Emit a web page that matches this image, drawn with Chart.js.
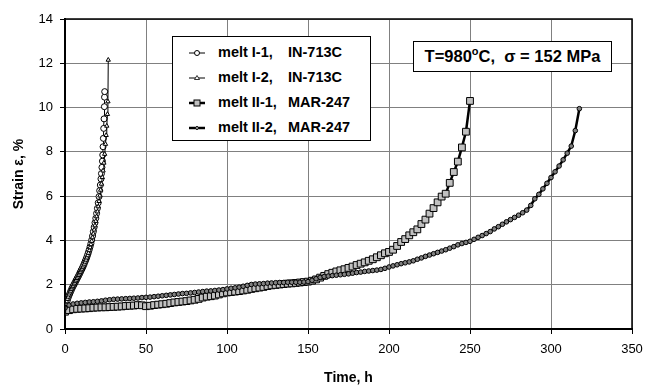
<!DOCTYPE html>
<html>
<head>
<meta charset="utf-8">
<script src="https://cdn.jsdelivr.net/npm/chart.js@4"></script>
<style>
  body { margin: 0; background: #fff; font-family: "Liberation Sans", Arial, sans-serif; }
  #wrap { position: relative; width: 645px; height: 388px; }
  .legend { position: absolute; left: 172px; top: 36px; width: 199px; height: 105px; border: 1px solid #000; background: #fff; box-sizing: border-box; }
  .row { position: absolute; left: 0; height: 20px; width: 199px; font-weight: bold; font-size: 14.5px; color: #000; }
  .row svg { position: absolute; left: 16px; top: 3px; }
  .row .name { position: absolute; left: 45px; top: 1px; white-space: pre; }
  .row .mat { position: absolute; left: 115px; top: 1px; white-space: pre; }
  .note { position: absolute; left: 413px; top: 41px; width: 199px; height: 31px; border: 1px solid #000; background: #fff; box-sizing: border-box;
          font-weight: bold; font-size: 16.5px; text-align: center; line-height: 29px; white-space: pre; }
  .note sup { font-size: 11px; vertical-align: 7px; line-height: 0; }
</style>
</head>
<body>
<div id="wrap">
  <canvas id="chart" width="645" height="388"></canvas>
  <div class="legend" id="legend"></div>
  <div class="note">T=980<sup>o</sup>C,  σ = 152 MPa</div>
</div>
<script>
// melt I-1, IN-713C
const timeI1 = [0, 0.5, 1, 1.5, 2, 2.5, 3, 3.5, 4, 4.5, 5, 5.5, 6, 6.5, 7, 7.5, 8, 8.5, 9, 9.5,
  10, 10.5, 11, 11.5, 12, 12.5, 13, 13.5, 14, 14.5, 15, 15.5, 16, 16.5, 17, 17.5, 18, 18.5, 19, 19.5,
  20, 20.5, 21, 21.4, 21.8, 22.2, 22.5, 22.8, 23.1, 23.3, 23.5, 23.7, 23.9, 24.1, 24.3, 24.4, 24.5];
const strainI1 = [0.9, 1.05, 1.18, 1.3, 1.42, 1.52, 1.61, 1.7, 1.78, 1.86, 1.93, 2.0, 2.07, 2.14, 2.21, 2.28, 2.35, 2.42, 2.5, 2.57,
  2.65, 2.72, 2.8, 2.88, 2.97, 3.06, 3.15, 3.25, 3.36, 3.47, 3.59, 3.72, 3.86, 4.02, 4.2, 4.4, 4.6, 4.8, 5.0, 5.22,
  5.45, 5.7, 5.98, 6.25, 6.5, 6.78, 7.02, 7.3, 7.58, 7.86, 8.23, 8.61, 9.06, 9.49, 10.04, 10.47, 10.72];

// melt I-2, IN-713C
const timeI2 = [0, 0.5, 1, 1.5, 2, 2.5, 3, 3.5, 4, 4.5, 5, 5.5, 6, 6.5, 7, 7.5, 8, 8.5, 9, 9.5,
  10, 10.5, 11, 11.5, 12, 12.5, 13, 13.5, 14, 14.5, 15, 15.5, 16, 16.5, 17, 17.5, 18, 18.5, 19, 19.5,
  20, 20.5, 21, 21.5, 22, 22.5, 23, 23.5, 24, 24.5, 25, 25.4, 25.8, 26.2, 26.5, 26.7];
const strainI2 = [1.0, 1.12, 1.24, 1.35, 1.45, 1.55, 1.64, 1.72, 1.8, 1.87, 1.94, 2.01, 2.08, 2.15, 2.22, 2.29, 2.36, 2.43, 2.5, 2.57,
  2.64, 2.71, 2.78, 2.86, 2.94, 3.03, 3.12, 3.22, 3.32, 3.43, 3.55, 3.68, 3.82, 3.97, 4.13, 4.3, 4.48, 4.67, 4.87, 5.08,
  5.3, 5.53, 5.77, 6.02, 6.28, 6.55, 6.85, 7.15, 7.5, 7.9, 8.35, 8.75, 9.17, 9.7, 10.27, 12.15];

// melt II-1, MAR-247
const timeII1 = [0, 2.5, 5, 7.5, 10, 12.5, 15, 17.5, 20, 22.5,
  25, 27.5, 30, 32.5, 35, 37.5, 40, 42.5, 45, 47.5,
  50, 52.5, 55, 57.5, 60, 62.5, 65, 67.5, 70, 72.5,
  75, 77.5, 80, 82.5, 85, 87.5, 90, 92.5, 95, 97.5,
  100, 102.5, 105, 107.5, 110, 112.5, 115, 117.5, 120, 122.5,
  125, 127.5, 130, 132.5, 135, 137.5, 140, 142.5, 145, 147.5,
  150, 152.5, 155, 157.5, 160, 162.5, 165, 167.5, 170, 172.5,
  175, 177.5, 180, 182.5, 185, 187.5, 190, 192.5, 195, 197.5,
  200, 202.5, 205, 207.5, 210, 212.5, 215, 217.5, 220, 222.5,
  225, 227.5, 230, 232.5, 235, 237.5, 240, 242.5, 245, 247.5,
  250];
const strainII1 = [0.78, 0.85, 0.89, 0.91, 0.92, 0.93, 0.94, 0.96, 0.97, 0.98,
  0.98, 0.99, 1.00, 1.01, 1.02, 1.04, 1.05, 1.06, 1.08, 1.07,
  1.03, 1.05, 1.08, 1.10, 1.12, 1.14, 1.17, 1.20, 1.22, 1.24,
  1.26, 1.29, 1.32, 1.36, 1.42, 1.46, 1.48, 1.51, 1.56, 1.61,
  1.65, 1.67, 1.69, 1.71, 1.74, 1.77, 1.81, 1.84, 1.87, 1.90,
  1.94, 1.97, 1.99, 2.01, 2.03, 2.05, 2.06, 2.08, 2.10, 2.12,
  2.14, 2.18, 2.24, 2.32, 2.40, 2.48, 2.54, 2.60, 2.65, 2.70,
  2.76, 2.82, 2.89, 2.95, 3.01, 3.08, 3.15, 3.24, 3.33, 3.42,
  3.48, 3.58, 3.75, 3.93, 4.06, 4.23, 4.37, 4.50, 4.74, 4.94,
  5.21, 5.46, 5.72, 5.98, 6.11, 6.60, 7.09, 7.56, 8.20, 8.91,
  10.30];

// melt II-2, MAR-247
const timeII2 = [0, 2.5, 5, 7.5, 10, 12.5, 15, 17.5, 20, 22.5,
  25, 27.5, 30, 32.5, 35, 37.5, 40, 42.5, 45, 47.5,
  50, 52.5, 55, 57.5, 60, 62.5, 65, 67.5, 70, 72.5,
  75, 77.5, 80, 82.5, 85, 87.5, 90, 92.5, 95, 97.5,
  100, 102.5, 105, 107.5, 110, 112.5, 115, 117.5, 120, 122.5,
  125, 127.5, 130, 132.5, 135, 137.5, 140, 142.5, 145, 147.5,
  150, 152.5, 155, 157.5, 160, 162.5, 165, 167.5, 170, 172.5,
  175, 177.5, 180, 182.5, 185, 187.5, 190, 192.5, 195, 197.5,
  200, 202.5, 205, 207.5, 210, 212.5, 215, 217.5, 220, 222.5,
  225, 227.5, 230, 232.5, 235, 237.5, 240, 242.5, 245, 247.5,
  250, 252.5, 255, 257.5, 260, 262.5, 265, 267.5, 270, 272.5,
  275, 277.5, 280, 282.5, 285, 287.5, 290, 292.5, 295, 297.5,
  300, 302.5, 305, 307.5, 310, 312.5, 315, 317.5];
const strainII2 = [0.95, 1.08, 1.13, 1.16, 1.18, 1.20, 1.22, 1.23, 1.25, 1.27,
  1.30, 1.32, 1.34, 1.35, 1.36, 1.37, 1.38, 1.39, 1.40, 1.42,
  1.43, 1.44, 1.46, 1.48, 1.50, 1.52, 1.54, 1.56, 1.58, 1.60,
  1.61, 1.63, 1.65, 1.67, 1.69, 1.71, 1.72, 1.74, 1.76, 1.78,
  1.81, 1.84, 1.86, 1.89, 1.93, 1.97, 2.01, 2.03, 2.04, 2.05,
  2.07, 2.08, 2.09, 2.10, 2.10, 2.11, 2.11, 2.11, 2.11, 2.12,
  2.14, 2.20, 2.27, 2.33, 2.37, 2.39, 2.41, 2.43, 2.45, 2.47,
  2.49, 2.52, 2.55, 2.57, 2.60, 2.62, 2.64, 2.66, 2.69, 2.74,
  2.80, 2.85, 2.90, 2.95, 2.99, 3.03, 3.08, 3.15, 3.21, 3.28,
  3.34, 3.40, 3.46, 3.52, 3.58, 3.65, 3.72, 3.80, 3.86, 3.91,
  3.96, 4.05, 4.14, 4.22, 4.31, 4.40, 4.52, 4.62, 4.73, 4.84,
  4.94, 5.04, 5.14, 5.25, 5.37, 5.58, 5.88, 6.08, 6.33, 6.58,
  6.84, 7.10, 7.36, 7.64, 7.94, 8.26, 8.96, 9.95];

const seriesNames = ['melt I-1,', 'melt I-2,', 'melt II-1,', 'melt II-2,'];
const materials = ['IN-713C', 'IN-713C', 'MAR-247', 'MAR-247'];
const xTicks = [0, 50, 100, 150, 200, 250, 300, 350];
const yTicks = [0, 2, 4, 6, 8, 10, 12, 14];

const pts = (xs, ys) => xs.map((x, i) => ({ x: x, y: ys[i] }));
const FONT = '"Liberation Sans", Arial, sans-serif';

const styles = [
  { pointStyle: 'circle', pointRadius: 3, pointBackgroundColor: '#fff', borderWidth: 1 },
  { pointStyle: 'triangle', pointRadius: 2.5, pointBackgroundColor: '#fff', borderWidth: 1 },
  { pointStyle: 'rect', pointRadius: 4.8, pointBackgroundColor: '#c0c0c0', borderWidth: 2.5 },
  { pointStyle: 'circle', pointRadius: 2.3, pointBackgroundColor: '#808080', borderWidth: 2.5 }
];
const sets = [[timeI1, strainI1], [timeI2, strainI2], [timeII1, strainII1], [timeII2, strainII2]];

const datasets = sets.map((s, i) => ({
  label: seriesNames[i] + ' ' + materials[i],
  data: pts(s[0], s[1]),
  borderColor: '#000',
  borderWidth: styles[i].borderWidth,
  pointStyle: styles[i].pointStyle,
  pointRadius: styles[i].pointRadius,
  pointBackgroundColor: styles[i].pointBackgroundColor,
  pointBorderColor: '#000',
  pointBorderWidth: 1,
  tension: 0,
  order: 4 - i
}));

// plot frame
const framePlugin = {
  id: 'frame',
  afterDraw(chart) {
    const { ctx, chartArea: a } = chart;
    ctx.save();
    ctx.strokeStyle = '#000';
    ctx.lineWidth = 1.5;
    ctx.strokeRect(a.left, a.top, a.right - a.left, a.bottom - a.top);
    ctx.restore();
  }
};

new Chart(document.getElementById('chart'), {
  type: 'line',
  data: { datasets: datasets },
  plugins: [framePlugin],
  options: {
    responsive: false,
    animation: false,
    layout: { padding: { left: 0, right: 13, top: 19, bottom: 0 } },
    plugins: { legend: { display: false }, tooltip: { enabled: false } },
    scales: {
      x: {
        type: 'linear', min: 0, max: 350,
        afterBuildTicks: (s) => { s.ticks = xTicks.map(v => ({ value: v })); },
        afterFit: (s) => { s.height = 59; s.paddingLeft = 0; s.paddingRight = 0; },
        ticks: { color: '#000', font: { family: FONT, size: 13 }, padding: 8, maxRotation: 0 },
        grid: { color: '#808080', tickColor: '#000', tickLength: 5, lineWidth: 1 },
        border: { color: '#000', width: 2 },
        title: { display: true, text: 'Time, h', color: '#000', font: { family: FONT, size: 14, weight: 'bold' }, padding: { top: 0, bottom: 1 } }
      },
      y: {
        min: 0, max: 14,
        afterBuildTicks: (s) => { s.ticks = yTicks.map(v => ({ value: v })); },
        afterFit: (s) => { s.width = 65; s.paddingTop = 0; s.paddingBottom = 0; },
        ticks: { color: '#000', font: { family: FONT, size: 13 }, padding: 7 },
        grid: { color: '#808080', tickColor: '#000', tickLength: 5, lineWidth: 1 },
        border: { color: '#000', width: 2 },
        title: { display: true, text: 'Strain ε, %', color: '#000', font: { family: FONT, size: 14, weight: 'bold' }, padding: { top: 11, bottom: 0 } }
      }
    }
  }
});

// legend box
const markerSvg = [
  '<line x1="0" y1="7" x2="16" y2="7" stroke="#000" stroke-width="1"/><circle cx="8" cy="7" r="2.5" fill="#fff" stroke="#000"/>',
  '<line x1="0" y1="7" x2="16" y2="7" stroke="#000" stroke-width="1"/><path d="M8 4.5 L10.5 8.5 L5.5 8.5 Z" fill="#fff" stroke="#000" stroke-width="0.8"/>',
  '<line x1="0" y1="7" x2="16" y2="7" stroke="#000" stroke-width="2.5"/><rect x="5" y="4" width="6" height="6" fill="#c0c0c0" stroke="#000"/>',
  '<line x1="0" y1="7" x2="16" y2="7" stroke="#000" stroke-width="2.5"/><path d="M8 5 L10 7 L8 9 L6 7 Z" fill="#808080" stroke="#000" stroke-width="0.8"/>'
];
const legendEl = document.getElementById('legend');
legendEl.innerHTML = seriesNames.map((n, i) => `
  <div class="row" style="top:${6 + i * 25}px">
    <svg width="18" height="14">${markerSvg[i]}</svg>
    <span class="name">${n}</span><span class="mat">${materials[i]}</span>
  </div>`).join('');
</script>
</body>
</html>
